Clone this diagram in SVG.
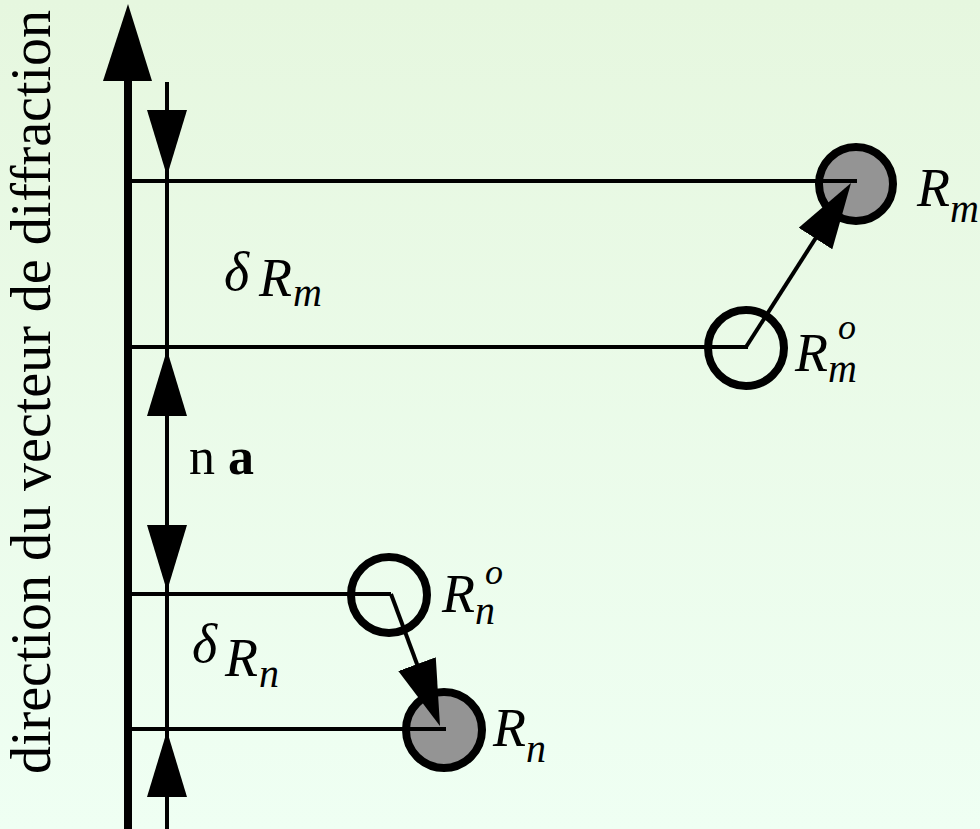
<svg xmlns="http://www.w3.org/2000/svg" width="980" height="829" viewBox="0 0 980 829">
<defs>
<linearGradient id="bg" x1="0" y1="0" x2="0" y2="1">
<stop offset="0" stop-color="#e6f7df"/>
<stop offset="1" stop-color="#effff3"/>
</linearGradient>
<marker id="ah" markerUnits="userSpaceOnUse" markerWidth="66" markerHeight="40" viewBox="0 0 66 40" refX="58" refY="20" orient="auto">
<path d="M0,0 L66,20 L0,40 Z" fill="#000"/>
</marker>
<style>
.ln{stroke:#000;stroke-width:4;fill:none}
.arr{stroke:#000;stroke-width:4;fill:none;marker-end:url(#ah)}
.atom{stroke:#000;stroke-width:8;fill:#949494}
.ghost{stroke:#000;stroke-width:8;fill:none}
text{font-family:'Liberation Serif','DejaVu Serif','Times New Roman',serif;fill:#000}
.it{font-style:italic}
.big{font-size:54px}
.sub{font-size:40px}
.sup{font-size:36px}
</style>
</defs>
<rect x="0" y="0" width="980" height="829" fill="url(#bg)"/>

<g id="axis">
<rect x="124" y="78" width="8" height="751" fill="#000"/>
<polygon points="128,4 103,81 152,81" fill="#000"/>
<text font-size="56" text-anchor="middle" transform="translate(50,392) rotate(-90)">direction du vecteur de diffraction</text>
</g>

<g id="Rm">
<circle class="atom" cx="856" cy="184" r="37"/>
<text class="it big" x="917" y="206">R</text>
<text class="it sub" x="950" y="222">m</text>
</g>
<g id="Rmo">
<circle class="ghost" cx="746" cy="348" r="38"/>
<text class="it big" x="795" y="371">R</text>
<text class="it sup" x="838" y="339">o</text>
<text class="it sub" x="828" y="382">m</text>
</g>
<g id="Rno">
<circle class="ghost" cx="389" cy="595" r="38"/>
<text class="it big" x="442" y="612">R</text>
<text class="it sup" x="485" y="584">o</text>
<text class="it sub" x="475" y="624">n</text>
</g>
<g id="Rn">
<circle class="atom" cx="444" cy="730" r="38"/>
<text class="it big" x="493" y="746">R</text>
<text class="it sub" x="526" y="762">n</text>
</g>
<g id="dRm">
<text class="it big" x="224" y="290">δ</text>
<text class="it big" x="259" y="296">R</text>
<text class="it sub" x="293" y="306">m</text>
</g>
<g id="dRn">
<text class="it big" x="192" y="662">δ</text>
<text class="it big" x="225" y="676">R</text>
<text class="it sub" x="259" y="687">n</text>
</g>
<g id="na">
<text x="189" y="474" font-size="52">n <tspan font-weight="bold">a</tspan></text>
</g>

<g id="connectors">
<line class="ln" x1="167" y1="82" x2="167" y2="829"/>
<line class="ln" x1="132" y1="181" x2="857" y2="181"/>
<line class="ln" x1="132" y1="347" x2="748" y2="347"/>
<line class="ln" x1="132" y1="594" x2="391" y2="594"/>
<line class="ln" x1="132" y1="729" x2="446" y2="729"/>
<path class="arr" d="M167,82 L167,168"/>
<path class="arr" d="M167,470 L167,358"/>
<path class="arr" d="M167,470 L167,583"/>
<path class="arr" d="M167,829 L167,739"/>
<path class="arr" d="M746,347 L846.7,189.7"/>
<path class="arr" d="M391,594 L437.2,718.5"/>
</g>
</svg>
